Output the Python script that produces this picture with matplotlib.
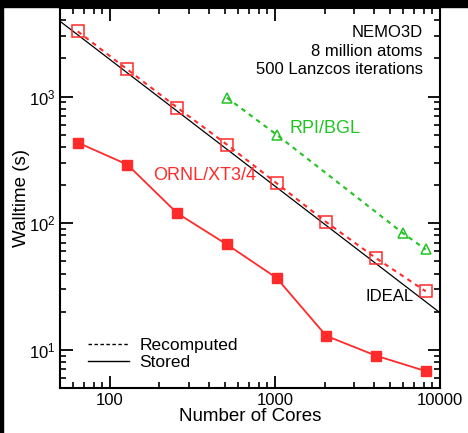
import numpy as np
import matplotlib
matplotlib.use('Agg')
import matplotlib.pyplot as plt
from matplotlib.lines import Line2D
from matplotlib.patches import Rectangle

plt.rcParams['font.family'] = ['Liberation Sans', 'DejaVu Sans']
plt.rcParams['mathtext.default'] = 'regular'

cores = [64, 128, 256, 512, 1024, 2048, 4096, 8192]
recomputed = [3270, 1635, 819, 418, 207, 102, 53, 29]
ornl = [433, 290, 120, 68, 37, 12.9, 9.0, 6.8]
rpi_cores = [512, 1024, 6000, 8192]
rpi = [980, 500, 83, 62]
ideal_x = [50, 10000]
ideal_ref = 3070  # walltime at 64 cores

red = '#ff2a2a'
green = '#22c322'

fig = plt.figure(figsize=(4.68, 4.33), dpi=100)
ax = fig.add_axes([60/468, 1-388/433, 380/468, 380/433])

ideal_y = [ideal_ref * 64 / x for x in ideal_x]
ax.plot(ideal_x, ideal_y, color='black', lw=0.9)
ax.plot(cores, recomputed, color=red, ls=(0, (2.2, 2.2)), lw=1.5,
        marker='s', ms=8.5, mfc='none', mec=red, mew=1.1)
ax.plot(cores, ornl, color=red, lw=1.3, marker='s', ms=6.5, mfc=red, mec=red)
ax.plot(rpi_cores, rpi, color=green, ls=(0, (2.2, 2.2)), lw=1.5,
        marker='^', ms=7.5, mfc='none', mec=green, mew=1.1)

ax.set_xscale('log')
ax.set_yscale('log')
ax.set_xlim(50, 10000)
ax.set_ylim(5, 5000)
ax.set_xticks([100, 1000, 10000])
ax.set_xticklabels(['100', '1000', '10000'])

ax.tick_params(which='both', direction='in', top=True, right=True, labelsize=12)
ax.tick_params(which='major', length=9, width=1.3)
ax.tick_params(which='minor', length=4.5, width=1.2)
for s in ax.spines.values():
    s.set_linewidth(1.5)

ax.set_xlabel('Number of Cores', fontsize=13.5, labelpad=0)
ax.set_ylabel('Walltime (s)', fontsize=13.5, labelpad=-1)

ax.text(0.955, 0.955, 'NEMO3D\n8 million atoms\n500 Lanzcos iterations',
        transform=ax.transAxes, ha='right', va='top', fontsize=12, linespacing=1.3)
ax.text(0.605, 0.684, 'RPI/BGL', transform=ax.transAxes, color=green,
        ha='left', va='center', fontsize=13)
ax.text(0.245, 0.558, 'ORNL/XT3/4', transform=ax.transAxes, color=red,
        ha='left', va='center', fontsize=13)
ax.text(0.805, 0.242, 'IDEAL', transform=ax.transAxes, color='black',
        ha='left', va='center', fontsize=12)

handles = [Line2D([], [], color='black', ls=(0, (2.5, 1.8)), lw=1.0),
           Line2D([], [], color='black', lw=1.0)]
ax.legend(handles, ['Recomputed', 'Stored'], loc='lower left',
          bbox_to_anchor=(0.045, 0.02), frameon=False, fontsize=12.5,
          handlelength=2.4, handletextpad=0.6, labelspacing=0.1,
          borderaxespad=0.2)

# black borders of the cropped source picture
fig.patches.append(Rectangle((0, 1-7/433), 1, 7/433, transform=fig.transFigure,
                             color='black', zorder=10))
fig.patches.append(Rectangle((0, 0), 3/468, 1, transform=fig.transFigure,
                             color='black', zorder=10))

fig.savefig('out.png', dpi=100, facecolor='white')
